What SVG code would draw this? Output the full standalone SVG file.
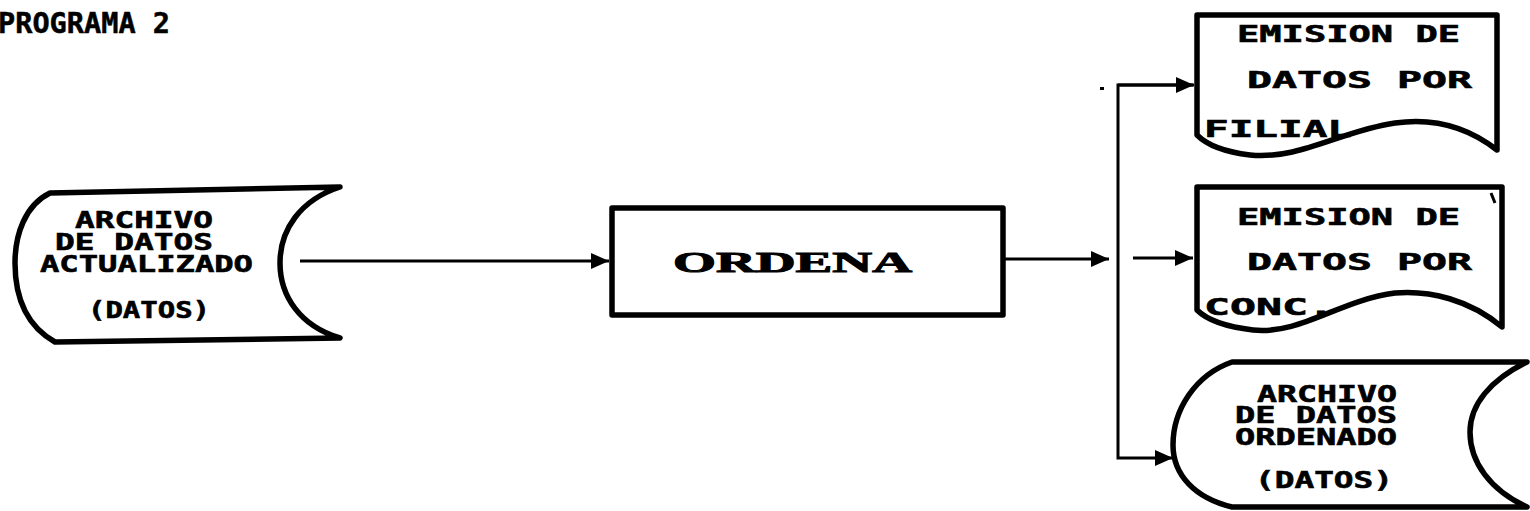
<svg xmlns="http://www.w3.org/2000/svg" width="1530" height="511" viewBox="0 0 1530 511">
<style>
.shape{fill:#fff;stroke:#000;stroke-width:5.5;stroke-linejoin:round}
.conn{fill:none;stroke:#000;stroke-width:3}
.t{font-family:"DejaVu Sans Mono","Liberation Mono",monospace;font-weight:bold;font-size:23px;fill:#000;stroke:#000;stroke-width:0.6}
.title{font-family:"DejaVu Sans Mono","Liberation Mono",monospace;font-weight:bold;font-size:29px;fill:#000;stroke:#000;stroke-width:0.5}
.big{font-family:"Liberation Serif","DejaVu Serif",serif;font-weight:bold;font-size:30px;fill:#000;stroke:#000;stroke-width:1}
</style>
<defs>
<marker id="ah" markerUnits="userSpaceOnUse" markerWidth="20" markerHeight="18" refX="18" refY="9" orient="auto">
<path d="M0,1 L18,9 L0,17 Z" fill="#000"/>
</marker>
</defs>
<text class="title" x="-2" y="33" textLength="172" lengthAdjust="spacingAndGlyphs">PROGRAMA 2</text>

<g id="connectors">
<line class="conn" x1="300" y1="261" x2="609" y2="261" marker-end="url(#ah)"/>
<line class="conn" x1="1003" y1="259" x2="1109" y2="259" marker-end="url(#ah)"/>
<polyline class="conn" points="1193,85 1118,85 1118,458 1173,458" marker-end="url(#ah)"/>
<line class="conn" x1="1118" y1="85" x2="1194" y2="85" marker-end="url(#ah)"/>
<line class="conn" x1="1133" y1="258" x2="1193" y2="258" marker-end="url(#ah)"/>
<rect x="1100" y="87" width="4" height="3" fill="#000"/>
</g>

<g id="archivo-actualizado">
<path class="shape" d="M50,193 L340,187 C300,200 280,230 280,263 C280,296 300,326 340,338 L55,342 C25,325 15,295 15,263 C15,235 25,205 50,193 Z"/>
<text class="t" x="75" y="228" textLength="138" lengthAdjust="spacingAndGlyphs">ARCHIVO</text>
<text class="t" x="55" y="250" textLength="158" lengthAdjust="spacingAndGlyphs">DE DATOS</text>
<text class="t" x="40" y="272" textLength="213" lengthAdjust="spacingAndGlyphs">ACTUALIZADO</text>
<text class="t" x="88" y="318" textLength="122" lengthAdjust="spacingAndGlyphs">(DATOS)</text>
</g>

<g id="ordena">
<rect class="shape" x="612" y="208" width="391" height="107" stroke-width="6"/>
<text class="big" x="673" y="272" textLength="239" lengthAdjust="spacingAndGlyphs">ORDENA</text>
</g>

<g id="emision-filial">
<path class="shape" d="M1197,135 L1197,15 L1497,15 L1497,150 C1465,125 1430,118 1395,123 C1340,131 1300,160 1250,155 C1225,152 1207,145 1197,135 Z"/>
<text class="t" x="1237" y="42" textLength="223" lengthAdjust="spacingAndGlyphs">EMISION DE</text>
<text class="t" x="1247" y="88" textLength="225" lengthAdjust="spacingAndGlyphs">DATOS POR</text>
<text class="t" x="1204" y="137" textLength="148" lengthAdjust="spacingAndGlyphs">FILIAL</text>
</g>

<g id="emision-conc">
<path class="shape" d="M1197,310 L1197,187 L1502,187 L1502,327 C1470,300 1430,290 1395,293 C1340,300 1300,335 1253,330 C1228,327 1207,320 1197,310 Z"/>
<path d="M1491,193 L1495,203" stroke="#000" stroke-width="3"/>
<text class="t" x="1237" y="225" textLength="223" lengthAdjust="spacingAndGlyphs">EMISION DE</text>
<text class="t" x="1247" y="270" textLength="225" lengthAdjust="spacingAndGlyphs">DATOS POR</text>
<text class="t" x="1204" y="315" textLength="130" lengthAdjust="spacingAndGlyphs">CONC.</text>
</g>

<g id="archivo-ordenado">
<path class="shape" d="M1232,362 L1527,362 C1490,380 1470,405 1470,432 C1470,462 1490,490 1527,507 L1232,507 C1195,498 1173,475 1173,445 C1173,410 1195,375 1232,362 Z"/>
<text class="t" x="1257" y="402" textLength="140" lengthAdjust="spacingAndGlyphs">ARCHIVO</text>
<text class="t" x="1235" y="423" textLength="162" lengthAdjust="spacingAndGlyphs">DE DATOS</text>
<text class="t" x="1235" y="445" textLength="162" lengthAdjust="spacingAndGlyphs">ORDENADO</text>
<text class="t" x="1255" y="488" textLength="138" lengthAdjust="spacingAndGlyphs">(DATOS)</text>
</g>
</svg>
